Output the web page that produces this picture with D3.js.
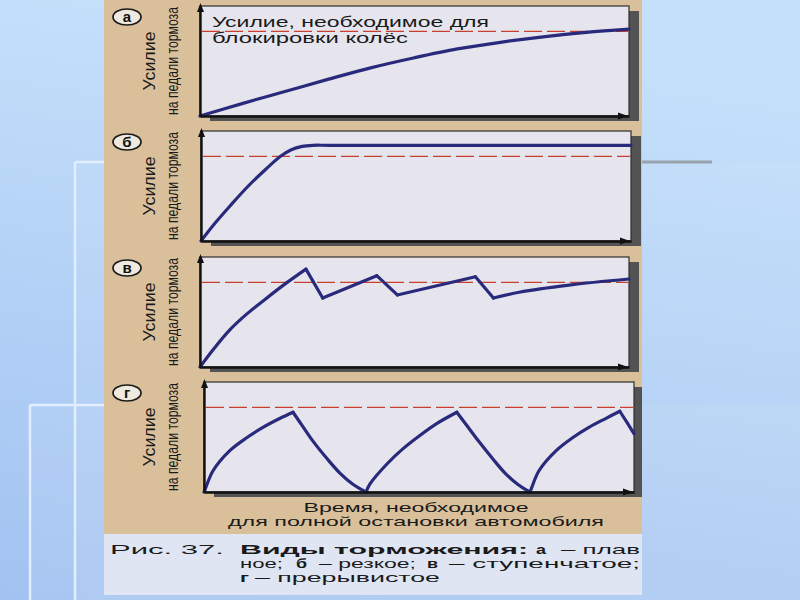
<!DOCTYPE html>
<html><head><meta charset="utf-8">
<script src="https://cdn.jsdelivr.net/npm/d3@7"></script>
<style>html,body{margin:0;padding:0;background:#b4d2f6;} svg{display:block}</style>
</head><body>
<svg id="c" width="800" height="600"></svg>
<script>
// ---------- data ----------
const panelLetters = ["а", "б", "в", "г"];
const yAxisTitle = ["Усилие", "на педали тормоза"];
const xAxisTitle = ["Время, необходимое", "для полной остановки автомобиля"];
const lockLabel = ["Усилие, необходимое для", "блокировки колёс"];
const lockForce = 77; // force needed to lock the wheels (0-100 scale)

// а — плавное
const timeA  = [0, 10, 20, 30, 40, 50, 60, 70, 80, 90, 100];
const forceA = [0, 11.5, 22.5, 33.5, 44, 53, 61, 67, 72, 76, 79];
const cornersA = [];
// б — резкое
const timeB  = [0, 3, 7, 11, 15, 18.5, 21, 23.5, 26, 30, 100];
const forceB = [0, 15, 33, 50, 65, 77, 83, 86, 87, 87, 87];
const cornersB = [];
// в — ступенчатое
const timeC  = [0, 3, 7, 11, 15, 20, 24.7, 28.6, 41.2, 46, 64.2, 68.4, 74.4, 86, 100];
const forceC = [0, 15.5, 34, 48.5, 61, 76, 89, 62.7, 83, 65.5, 82, 62.7, 68, 74.5, 80];
const cornersC = [24.7, 28.6, 41.2, 46, 64.2, 68.4];
// г — прерывистое
const timeD  = [0, 0.3, 2.1, 6, 10, 13.7, 17.7, 20.7,
                23, 25.3, 28.6, 31.6, 34.7, 37.7,
                38.6, 42.6, 46.3, 50.2, 54.2, 58.8,
                61.3, 63.8, 67.1, 70.0, 73.0, 75.8,
                76.1, 77.9, 81.9, 85.8, 89.5, 93.5, 96.7,
                98.4, 100];
const forceD = [0, 2.8, 19.3, 37.6, 49.5, 58.7, 67, 72.5,
                59.5, 46.5, 30.4, 17.2, 6.8, 0,
                7.3, 25.7, 39.4, 51.4, 62.4, 72.5,
                59.5, 46.5, 30.4, 17.2, 6.8, 0,
                2.8, 19.3, 37.6, 49.5, 58.7, 67, 73.4,
                63, 53];
const cornersD = [20.7, 37.7, 58.8, 75.8, 96.7];

const captionText = [
  [["Рис. 37.", false], ["Виды торможения:", true], ["а", true], ["– плав", false]],
  [["ное;", false], ["б", true], ["– резкое;", false], ["в", true], ["– ступенчатое;", false]],
  [["г", true], ["– прерывистое", false]]
];

// ---------- layout ----------
const FONT = "'Liberation Sans', Arial, sans-serif";
const svg = d3.select("#c");
const defs = svg.append("defs");

const bg = defs.append("linearGradient").attr("id", "bg")
  .attr("x1", 0.2).attr("y1", 0).attr("x2", 0).attr("y2", 1);
bg.append("stop").attr("offset", 0).attr("stop-color", "#c4e0fb");
bg.append("stop").attr("offset", 1).attr("stop-color", "#a2c2f1");
svg.append("rect").attr("width", 800).attr("height", 600).attr("fill", "url(#bg)");

// slide template decorations
svg.append("rect").attr("x", 75).attr("y", 162).attr("width", 725).attr("height", 438)
  .attr("fill", "#ffffff").attr("opacity", 0.07);
svg.append("rect").attr("x", 30).attr("y", 405).attr("width", 770).attr("height", 195)
  .attr("fill", "#ffffff").attr("opacity", 0.07);
[[75, 162, 75, 600], [30, 405, 30, 600], [30, 405, 104, 405], [75, 162, 104, 162]].forEach(l =>
  svg.append("line").attr("x1", l[0]).attr("y1", l[1]).attr("x2", l[2]).attr("y2", l[3])
    .attr("stroke", "#e2eeff").attr("stroke-width", 2.5));
svg.append("line").attr("x1", 642).attr("y1", 162).attr("x2", 712).attr("y2", 162)
  .attr("stroke", "#9aa3ad").attr("stroke-width", 3);

// scanned page
defs.append("clipPath").attr("id", "scan").append("rect")
  .attr("x", 104).attr("y", 0).attr("width", 538).attr("height", 595);
const page = svg.append("g").attr("clip-path", "url(#scan)");
page.append("rect").attr("x", 104).attr("y", 0).attr("width", 538).attr("height", 534).attr("fill", "#d9c09b");
page.append("rect").attr("x", 104).attr("y", 534).attr("width", 538).attr("height", 61).attr("fill", "#dfe5f3");

const panels = [
  {left: 200, right: 629, top: 6,   bottom: 116, t: timeA, f: forceA, corners: cornersA},
  {left: 201, right: 631, top: 131, bottom: 241, t: timeB, f: forceB, corners: cornersB},
  {left: 200, right: 629, top: 257, bottom: 367, t: timeC, f: forceC, corners: cornersC},
  {left: 204, right: 634, top: 382, bottom: 492, t: timeD, f: forceD, corners: cornersD}
];

function stretchText(g, str, x, y, len, size, weight, anchor) {
  return g.append("text").attr("x", x).attr("y", y)
    .attr("font-family", FONT).attr("font-size", size).attr("font-weight", weight || "normal")
    .attr("fill", "#1a1a1a").attr("text-anchor", anchor || "start")
    .attr("textLength", len).attr("lengthAdjust", "spacingAndGlyphs").text(str);
}

panels.forEach((p, i) => {
  const x = d3.scaleLinear().domain([0, 100]).range([p.left, p.right]);
  const y = d3.scaleLinear().domain([0, 100]).range([p.bottom, p.top]);
  const g = page.append("g");

  // shadow + box
  g.append("rect").attr("x", p.left + 10).attr("y", p.top + 5)
    .attr("width", p.right - p.left).attr("height", p.bottom - p.top).attr("fill", "#535353");
  g.append("rect").attr("x", p.left).attr("y", p.top)
    .attr("width", p.right - p.left).attr("height", p.bottom - p.top)
    .attr("fill", "#e6e5ee").attr("stroke", "#2e2e2e").attr("stroke-width", 1.2);

  // lock-force dashed line
  g.append("line").attr("x1", x(0) + 2).attr("x2", x(100) - 1)
    .attr("y1", y(lockForce)).attr("y2", y(lockForce))
    .attr("stroke", "#c8402c").attr("stroke-width", 1.3).attr("stroke-dasharray", "18,5");

  // curve, split at sharp corners
  const pts = p.t.map((t, k) => [t, p.f[k]]);
  const segs = [];
  let cur = [];
  pts.forEach(pt => {
    cur.push(pt);
    if (p.corners.includes(pt[0])) { segs.push(cur); cur = [pt]; }
  });
  if (cur.length > 1) segs.push(cur);
  const line = d3.line().x(d => x(d[0])).y(d => y(d[1])).curve(d3.curveCatmullRom.alpha(0.5));
  segs.forEach(s => g.append("path").attr("d", line(s)).attr("fill", "none")
    .attr("stroke", "#2a2a7c").attr("stroke-width", 3.2)
    .attr("stroke-linecap", "round").attr("stroke-linejoin", "round"));

  // axes (no ticks) drawn with d3 axes
  const ax = g.append("g").attr("transform", `translate(0,${p.bottom})`)
    .call(d3.axisBottom(x).tickValues([]).tickSizeOuter(0));
  const ay = g.append("g").attr("transform", `translate(${p.left},0)`)
    .call(d3.axisLeft(y).tickValues([]).tickSizeOuter(0));
  [ax, ay].forEach(a => a.select(".domain").attr("stroke", "#111").attr("stroke-width", 2.4));
  // arrow heads
  g.append("path").attr("d", `M${x(0) + 0.5},${y(100) - 3} l-3.5,9 l7,0 z`).attr("fill", "#111");
  g.append("path").attr("d", `M${x(100) - 1},${y(0)} l-10,-3.5 l0,7 z`).attr("fill", "#111");

  // panel letter in an ellipse
  const cy = p.top + 11;
  g.append("ellipse").attr("cx", 127).attr("cy", cy).attr("rx", 14).attr("ry", 8)
    .attr("fill", "#efe9e0").attr("stroke", "#1a1a1a").attr("stroke-width", 1.7);
  g.append("text").attr("x", 127).attr("y", cy + 5).attr("text-anchor", "middle")
    .attr("font-family", FONT).attr("font-weight", "bold").attr("font-size", 15)
    .attr("fill", "#111").text(panelLetters[i]);

  // rotated y-axis title
  const mid = (p.top + p.bottom) / 2;
  const yt = g.append("g");
  [[155, 59], [178, 108]].forEach((d, k) => {
    const t = yt.append("g").attr("transform", `translate(${d[0]},${mid}) rotate(-90)`);
    stretchText(t, yAxisTitle[k], 0, 0, d[1], 16, "normal", "middle");
  });
});

// lock label inside panel а
stretchText(page, lockLabel[0], 212, 27, 277, 14);
stretchText(page, lockLabel[1], 212, 43, 196, 14);

// x-axis title
stretchText(page, xAxisTitle[0], 416, 512, 225, 13, "normal", "middle");
stretchText(page, xAxisTitle[1], 416, 526, 376, 13, "normal", "middle");

// caption
const capLayout = [
  {y: 554, pieces: [[110, 114], [240, 288], [536, 10], [561, 79]]},
  {y: 568, pieces: [[240, 43], [296, 11], [319, 97], [427, 11], [449, 191]]},
  {y: 582, pieces: [[240, 9], [255, 185]]}
];
captionText.forEach((line, li) => {
  line.forEach((pc, pi) => {
    const L = capLayout[li].pieces[pi];
    stretchText(page, pc[0], L[0], capLayout[li].y, L[1], 13.5, pc[1] ? "bold" : "normal");
  });
});
</script>
</body></html>
